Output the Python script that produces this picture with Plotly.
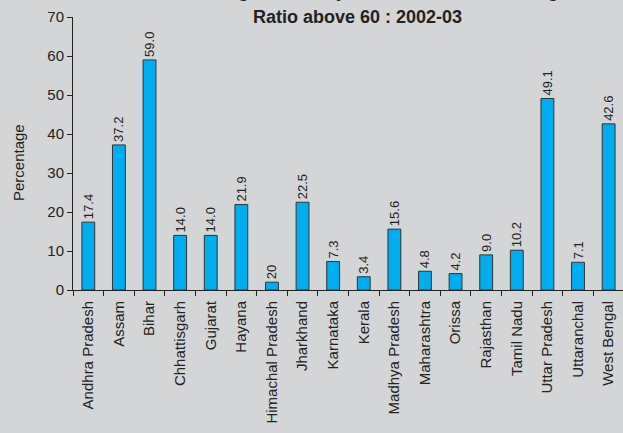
import plotly.graph_objects as go

states = ["Andhra Pradesh", "Assam", "Bihar", "Chhattisgarh", "Gujarat", "Hayana",
          "Himachal Pradesh", "Jharkhand", "Karnataka", "Kerala", "Madhya Pradesh",
          "Maharashtra", "Orissa", "Rajasthan", "Tamil Nadu", "Uttar Pradesh",
          "Uttaranchal", "West Bengal"]
values = [17.4, 37.2, 59.0, 14.0, 14.0, 21.9, 2.0, 22.5, 7.3, 3.4, 15.6, 4.8, 4.2,
          9.0, 10.2, 49.1, 7.1, 42.6]
labels = ["17.4", "37.2", "59.0", "14.0", "14.0", "21.9", "20", "22.5", "7.3", "3.4",
          "15.6", "4.8", "4.2", "9.0", "10.2", "49.1", "7.1", "42.6"]
y_ticks = [0, 10, 20, 30, 40, 50, 60, 70]
title_line1 = "Percentage of Elderly Households with Old Age"
title_line2 = "Ratio above 60 : 2002-03"
y_title = "Percentage"

FONT = "Arial, Liberation Sans, sans-serif"
BG = "#d4d5d7"
TXT = "#222222"

fig = go.Figure(go.Bar(
    x=states, y=values, text=labels, textposition="outside", textangle=-90,
    constraintext="none", cliponaxis=False,
    textfont=dict(family=FONT, size=13, color=TXT),
    marker=dict(color="#00aeef", line=dict(color="#333333", width=1)),
    width=0.42,
))

fig.update_layout(
    width=623, height=433,
    margin=dict(l=73, r=0, t=17, b=143),
    paper_bgcolor=BG, plot_bgcolor=BG,
    showlegend=False,
    font=dict(family=FONT, color=TXT),
    xaxis=dict(range=[-0.5, 17.47], showline=True, linecolor="#222", linewidth=1,
               ticks="outside", tickson="boundaries", ticklen=5, tickcolor="#222",
               tickangle=-90, ticklabelstandoff=4,
               tickfont=dict(size=15, family=FONT, color=TXT),
               showgrid=False, zeroline=False),
    yaxis=dict(range=[0, 70], tickvals=y_ticks, showline=True, linecolor="#222",
               linewidth=1, ticks="outside", ticklen=5, tickcolor="#222",
               tickfont=dict(size=15, family=FONT, color=TXT),
               showgrid=False, zeroline=False),
    annotations=[
        dict(text="<b>" + title_line1 + "</b>", xref="paper", yref="paper",
             x=0.53, y=1, yanchor="middle", xanchor="center", yshift=26,
             showarrow=False, font=dict(size=18, family=FONT, color=TXT)),
        dict(text="<b>" + title_line2 + "</b>", xref="paper", yref="paper",
             x=0.518, y=1, yanchor="middle", xanchor="center", yshift=0,
             showarrow=False, font=dict(size=18, family=FONT, color=TXT)),
        dict(text=y_title, xref="paper", yref="paper", x=-0.1, y=0.465,
             xanchor="center", yanchor="middle", textangle=-90,
             showarrow=False, font=dict(size=15, family=FONT, color=TXT)),
    ],
)

fig.write_html("out.html", config={"displayModeBar": False},
               post_script="document.body.style.margin='0';document.body.style.overflow='hidden';")
